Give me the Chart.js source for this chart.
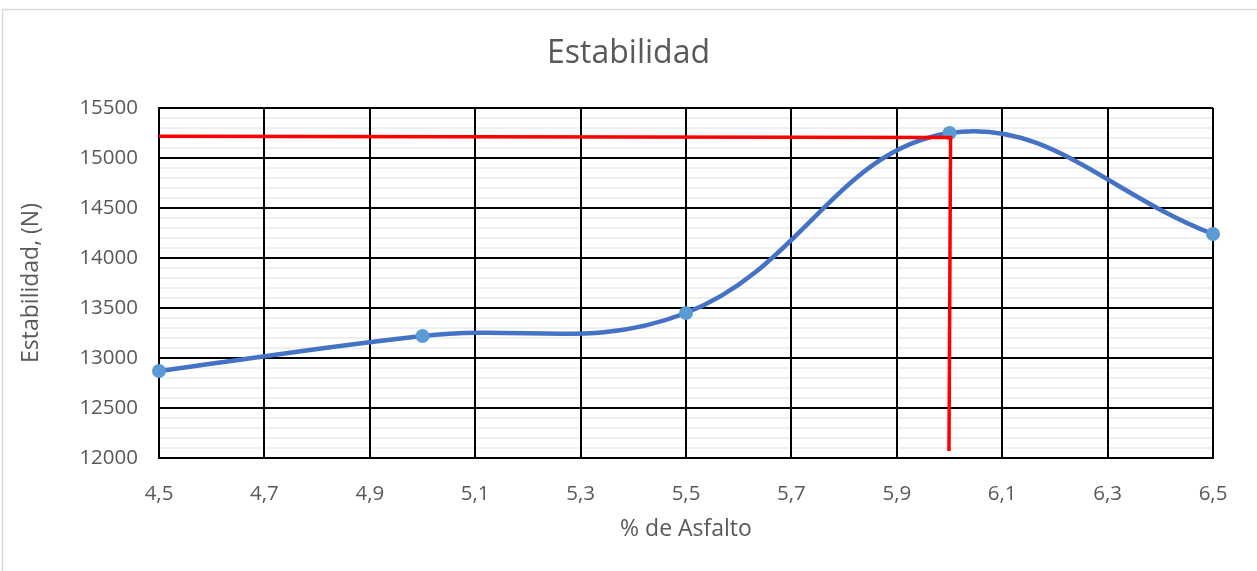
<!DOCTYPE html>
<html>
<head>
<meta charset="utf-8">
<title>Estabilidad</title>
<script src="https://cdn.jsdelivr.net/npm/chart.js@4/dist/chart.umd.min.js"></script>
<style>
  html, body { margin: 0; padding: 0; background: #ffffff; }
  #wrap { position: relative; width: 1257px; height: 571px; }
</style>
</head>
<body>
<div id="wrap"><canvas id="c" width="1257" height="571"></canvas></div>
<script>
// Estabilidad Marshall vs. contenido de asfalto
const asfalto = [4.5, 5.0, 5.5, 6.0, 6.5];
const estabilidad = [12870, 13220, 13450, 15250, 14240];

// Guía roja: lectura de la estabilidad máxima y su contenido óptimo de asfalto
const guiaX = [4.5, 6.002, 5.999];
const guiaY = [15218, 15205, 12070];

// Marcas de los ejes
const xTickValues = [4.5, 4.7, 4.9, 5.1, 5.3, 5.5, 5.7, 5.9, 6.1, 6.3, 6.5];
const xTickLabels = ['4,5', '4,7', '4,9', '5,1', '5,3', '5,5', '5,7', '5,9', '6,1', '6,3', '6,5'];
const yTicks = [12000, 12500, 13000, 13500, 14000, 14500, 15000, 15500];
const yMinorStep = 100;

const FONT = "'Open Sans', 'DejaVu Sans', sans-serif";
const TEXT = '#595959';

const yAll = [];
for (let v = yTicks[0]; v <= yTicks[yTicks.length - 1]; v += yMinorStep) yAll.push(v);

const frame = {
  id: 'frame',
  beforeDraw(chart) {
    const ctx = chart.ctx;
    ctx.save();
    ctx.fillStyle = '#ffffff';
    ctx.fillRect(0, 0, chart.width, chart.height);
    ctx.strokeStyle = '#d9d9d9';
    ctx.lineWidth = 1.5;
    ctx.strokeRect(2.5, 9.5, chart.width + 10, chart.height + 10);
    ctx.restore();
  }
};

new Chart(document.getElementById('c'), {
  type: 'line',
  data: {
    datasets: [
      {
        label: 'Guía',
        data: guiaX.map((x, i) => ({ x: x, y: guiaY[i] })),
        borderColor: '#ff0000',
        borderWidth: 3.5,
        pointRadius: 0,
        tension: 0,
        fill: false,
        clip: false,
        order: 0
      },
      {
        label: 'Estabilidad',
        data: asfalto.map((x, i) => ({ x: x, y: estabilidad[i] })),
        borderColor: '#4472c4',
        borderWidth: 4.5,
        backgroundColor: '#5b9bd5',
        pointBackgroundColor: '#5b9bd5',
        pointBorderColor: '#5b9bd5',
        pointBorderWidth: 0,
        pointRadius: 7,
        tension: 0.4,
        fill: false,
        clip: false,
        order: 1
      }
    ]
  },
  options: {
    responsive: false,
    animation: false,
    devicePixelRatio: 1,
    layout: { padding: { left: 0, right: 0, top: 0, bottom: 0 } },
    plugins: {
      legend: { display: false },
      tooltip: { enabled: false },
      title: {
        display: true,
        text: 'Estabilidad',
        color: TEXT,
        font: { family: FONT, size: 32, weight: 'normal' },
        padding: { top: 35, bottom: 34.6 }
      }
    },
    scales: {
      y: {
        type: 'linear',
        min: yTicks[0],
        max: yTicks[yTicks.length - 1],
        afterBuildTicks(scale) { scale.ticks = yAll.map(v => ({ value: v })); },
        afterFit(scale) { scale.width = 159; },
        ticks: {
          autoSkip: false,
          padding: 21,
          color: TEXT,
          font: { family: FONT, size: 20.5 },
          callback: (v) => (yTicks.includes(v) ? String(v) : '')
        },
        grid: {
          drawTicks: false,
          color: (c) => (c.tick && yTicks.includes(c.tick.value) ? '#000000' : '#efefef'),
          lineWidth: 2
        },
        border: { display: true, color: '#000000', width: 2 },
        title: {
          display: true,
          text: 'Estabilidad, (N)',
          color: TEXT,
          font: { family: FONT, size: 23 },
          padding: { top: 18, bottom: 0 }
        }
      },
      // margen derecho del área de trazado (sin marcas visibles)
      yMargen: {
        type: 'linear',
        position: 'right',
        min: yTicks[0],
        max: yTicks[yTicks.length - 1],
        afterFit(scale) { scale.width = 44; },
        ticks: { display: false },
        grid: { display: false, drawTicks: false },
        border: { display: false }
      },
      x: {
        type: 'linear',
        min: xTickValues[0],
        max: xTickValues[xTickValues.length - 1],
        afterBuildTicks(scale) { scale.ticks = xTickValues.map(v => ({ value: v })); },
        afterFit(scale) { scale.height = 113; },
        ticks: {
          autoSkip: false,
          maxRotation: 0,
          padding: 24,
          color: TEXT,
          font: { family: FONT, size: 20.5 },
          callback: (v, i) => xTickLabels[i]
        },
        grid: {
          drawTicks: false,
          color: '#000000',
          lineWidth: 2
        },
        border: { display: true, color: '#000000', width: 2 },
        title: {
          display: true,
          text: '% de Asfalto',
          color: TEXT,
          font: { family: FONT, size: 23 },
          padding: { top: 0, bottom: 28 }
        }
      }
    }
  },
  plugins: [frame]
});
</script>
</body>
</html>
